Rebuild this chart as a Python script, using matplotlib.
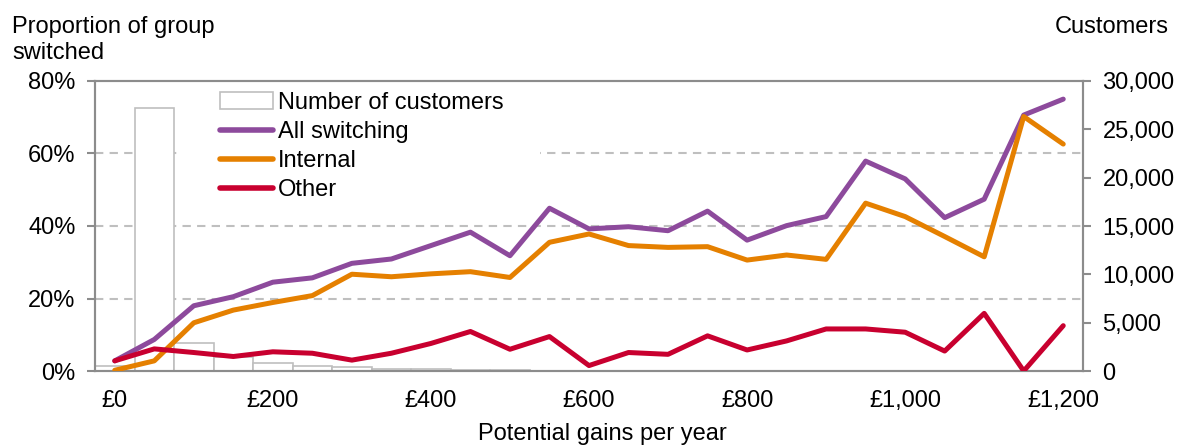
import matplotlib.pyplot as plt
from matplotlib.patches import Patch, Rectangle
from matplotlib.lines import Line2D

plt.rcParams['font.family'] = ['Liberation Sans', 'DejaVu Sans']
plt.rcParams['font.size'] = 17

# potential gains per year (£), one category every £50
gains = [0, 50, 100, 150, 200, 250, 300, 350, 400, 450, 500, 550, 600,
         650, 700, 750, 800, 850, 900, 950, 1000, 1050, 1100, 1150, 1200]

# number of customers in each band (right axis)
customers = [500, 27200, 2900, 1420, 800, 520, 380, 240, 170, 100, 100, 50, 30,
             20, 15, 10, 10, 5, 5, 5, 5, 5, 3, 2, 2]

# proportion of group switched (%)
all_switching = [2.8, 8.7, 18.0, 20.5, 24.5, 25.7, 29.7, 30.9, 34.6, 38.3, 31.8, 44.9, 39.2,
                 39.8, 38.7, 44.1, 36.1, 40.1, 42.6, 57.9, 53.0, 42.3, 47.4, 70.6, 75.0]
internal = [0.2, 2.8, 13.3, 16.8, 18.9, 20.8, 26.7, 26.0, 26.8, 27.4, 25.8, 35.5, 37.8,
            34.6, 34.1, 34.3, 30.6, 32.0, 30.8, 46.3, 42.6, 37.1, 31.5, 70.2, 62.6]
other = [2.8, 6.1, 5.1, 4.0, 5.3, 4.9, 3.0, 4.9, 7.6, 10.9, 6.0, 9.5, 1.5,
         5.1, 4.6, 9.7, 5.8, 8.3, 11.6, 11.6, 10.7, 5.5, 15.9, 0.0, 12.5]

x_ticks = [0, 200, 400, 600, 800, 1000, 1200]
x_labels = ['£0', '£200', '£400', '£600', '£800', '£1,000', '£1,200']

c_all = '#8D4A9C'
c_int = '#E58000'
c_oth = '#C8002F'
grey = '#8C8C8C'

fig = plt.figure(figsize=(11.77, 4.48), dpi=100)
W, H = 1177, 448
ax_bar = fig.add_axes([95 / W, 1 - 371 / H, (1083 - 95) / W, (371 - 81) / H])
ax = ax_bar.twinx()

# bars (customers) on the bottom axis, shown on the right
ax_bar.bar(gains, customers, width=50, color='white', edgecolor='#BFBFBF',
           linewidth=1.2, zorder=2)
ax_bar.set_ylim(0, 30000)
ax_bar.set_yticks([0, 5000, 10000, 15000, 20000, 25000, 30000])
ax_bar.set_yticklabels(['0', '5,000', '10,000', '15,000', '20,000', '25,000', '30,000'])
ax_bar.yaxis.tick_right()
# dashed gridlines at 20/40/60% sit behind the bars
for p in [20, 40, 60]:
    ax_bar.axhline(p / 80 * 30000, color='#BFBFBF', linestyle=(0, (4, 3)),
                   linewidth=1.5, zorder=1)
# white legend box hides part of the 60% gridline
ax_bar.add_patch(Rectangle((87 / 988, 0.58), (540 - 182) / 988, 0.4,
                           transform=ax_bar.transAxes, facecolor='white',
                           edgecolor='none', zorder=1.5))

# lines (proportions) on the top axis, shown on the left
ax.plot(gains, all_switching, color=c_all, linewidth=3.6, solid_capstyle='round', zorder=3)
ax.plot(gains, internal, color=c_int, linewidth=3.6, solid_capstyle='round', zorder=3)
ax.plot(gains, other, color=c_oth, linewidth=3.6, solid_capstyle='round', zorder=3)
ax.set_ylim(0, 80)
ax.set_yticks([0, 20, 40, 60, 80])
ax.set_yticklabels(['0%', '20%', '40%', '60%', '80%'])
ax.yaxis.tick_left()

for a in (ax, ax_bar):
    a.set_xlim(-25, 1225)
    for s in a.spines.values():
        s.set_color(grey)
        s.set_linewidth(1.5)
    a.tick_params(axis='y', length=6, width=1.5, color=grey, pad=8)

ax_bar.set_xticks(x_ticks)
ax_bar.set_xticklabels(x_labels)
ax_bar.tick_params(axis='x', length=0, pad=14)
ax.tick_params(axis='x', length=0, labelbottom=False)

handles = [Patch(facecolor='white', edgecolor='#BFBFBF', linewidth=1.2),
           Line2D([], [], color=c_all, linewidth=4, solid_capstyle='round'),
           Line2D([], [], color=c_int, linewidth=4, solid_capstyle='round'),
           Line2D([], [], color=c_oth, linewidth=4, solid_capstyle='round')]
labels = ['Number of customers', 'All switching', 'Internal', 'Other']
ax.legend(handles, labels, loc='upper left', bbox_to_anchor=(125 / 988, (371 - 92) / 290),
          frameon=False, handlelength=2.25, handletextpad=0.2,
          labelspacing=0.3, borderpad=0, borderaxespad=0)

fig.text(12 / W, 1 - 16 / H, 'Proportion of group\nswitched', ha='left', va='top',
         linespacing=1.25)
fig.text(1169 / W, 1 - 16 / H, 'Customers', ha='right', va='top')
fig.text(602 / W, 1 - 423 / H, 'Potential gains per year', ha='center', va='top')

fig.savefig('out.png', dpi=100)
